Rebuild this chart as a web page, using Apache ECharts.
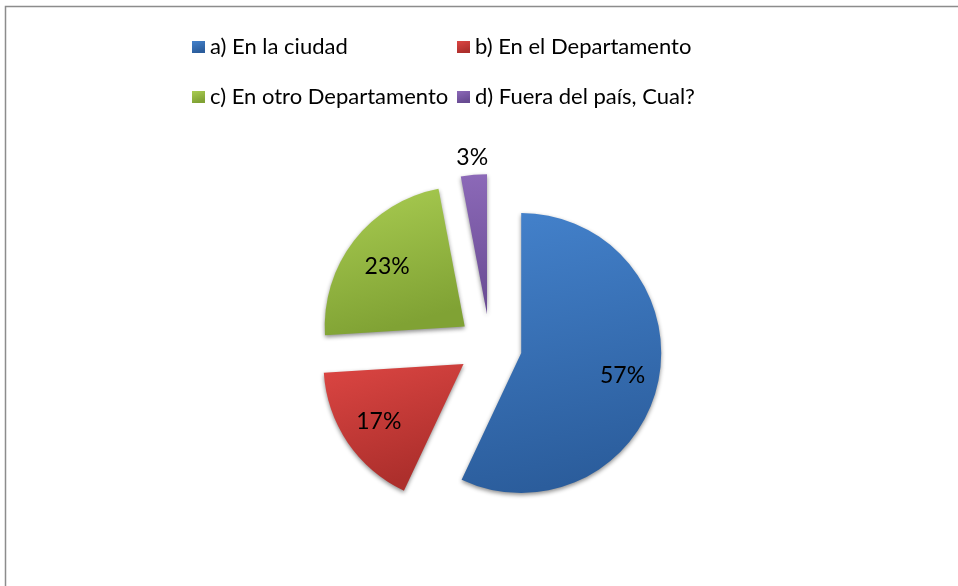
<!DOCTYPE html>
<html>
<head>
<meta charset="utf-8">
<script src="https://cdn.jsdelivr.net/npm/echarts@6/dist/echarts.min.js"></script>
<style>
  html, body { margin: 0; padding: 0; background: #fff; }
</style>
</head>
<body>
<div id="chart" style="width: 958px; height: 586px"></div>
<script>
// valores
const categorias = [
  "a) En la ciudad",
  "b) En el Departamento",
  "c) En otro Departamento",
  "d) Fuera del país, Cual?",
];
const porcentajes = [57, 17, 23, 3];

const colores = [
  ["#4482cc", "#2b5d9c"],
  ["#dc4643", "#ad2f2c"],
  ["#aacd52", "#80a234"],
  ["#8c69b8", "#684b92"],
];
// posicion radial de cada etiqueta (fraccion del radio)
const radioEtiqueta = [0.72, 0.71, 0.68, 1.1];

const R = 140;
const fuente = "Lato";

const chart = echarts.init(document.getElementById("chart"));

const total = porcentajes.reduce((a, b) => a + b, 0);
let acum = 0;
const desplaz = [];
const datos = porcentajes.map((v, i) => {
  const ang = ((acum + v / 2) / total) * 2 * Math.PI;
  acum += v;
  const k = (radioEtiqueta[i] - 0.5) * R;
  desplaz.push([k * Math.sin(ang), -k * Math.cos(ang)]);
  return {
    name: categorias[i],
    value: v,
    selected: true,
    itemStyle: {
      color: {
        type: "linear", x: 0, y: 0, x2: 0.3, y2: 1,
        colorStops: [
          { offset: 0, color: colores[i][0] },
          { offset: 1, color: colores[i][1] },
        ],
      },
    },
  };
});

const estiloLeyenda = { fontFamily: fuente, fontSize: 22, color: "#000", lineHeight: 26 };

chart.setOption({
  animation: false,
  graphic: [
    {
      type: "rect",
      shape: { x: 5.5, y: 6.5, width: 1000, height: 1000 },
      style: { fill: "none", stroke: "#8c8c8c", lineWidth: 1.5 },
      silent: true,
    },
  ],
  legend: [
    {
      orient: "vertical",
      left: 187,
      top: 29,
      itemWidth: 13,
      itemHeight: 12,
      itemGap: 24,
      icon: "rect",
      data: [categorias[0], categorias[2]],
      textStyle: estiloLeyenda,
    },
    {
      orient: "vertical",
      left: 452,
      top: 29,
      itemWidth: 13,
      itemHeight: 12,
      itemGap: 24,
      icon: "rect",
      data: [categorias[1], categorias[3]],
      textStyle: estiloLeyenda,
    },
  ],
  series: [
    {
      type: "pie",
      center: [490, 346],
      radius: R,
      startAngle: 90,
      clockwise: true,
      selectedMode: "multiple",
      selectedOffset: 32,
      avoidLabelOverlap: false,
      itemStyle: {
        shadowBlur: 4,
        shadowColor: "rgba(0,0,0,0.45)",
        shadowOffsetY: 2,
      },
      label: {
        show: true,
        position: "inside",
        formatter: "{c}%",
        fontFamily: fuente,
        fontSize: 23,
        color: "#000",
      },
      labelLayout: function (params) {
        const d = desplaz[params.dataIndex];
        return { dx: d[0], dy: d[1] };
      },
      labelLine: { show: false },
      emphasis: { disabled: true },
      data: datos,
    },
  ],
});
</script>
</body>
</html>
